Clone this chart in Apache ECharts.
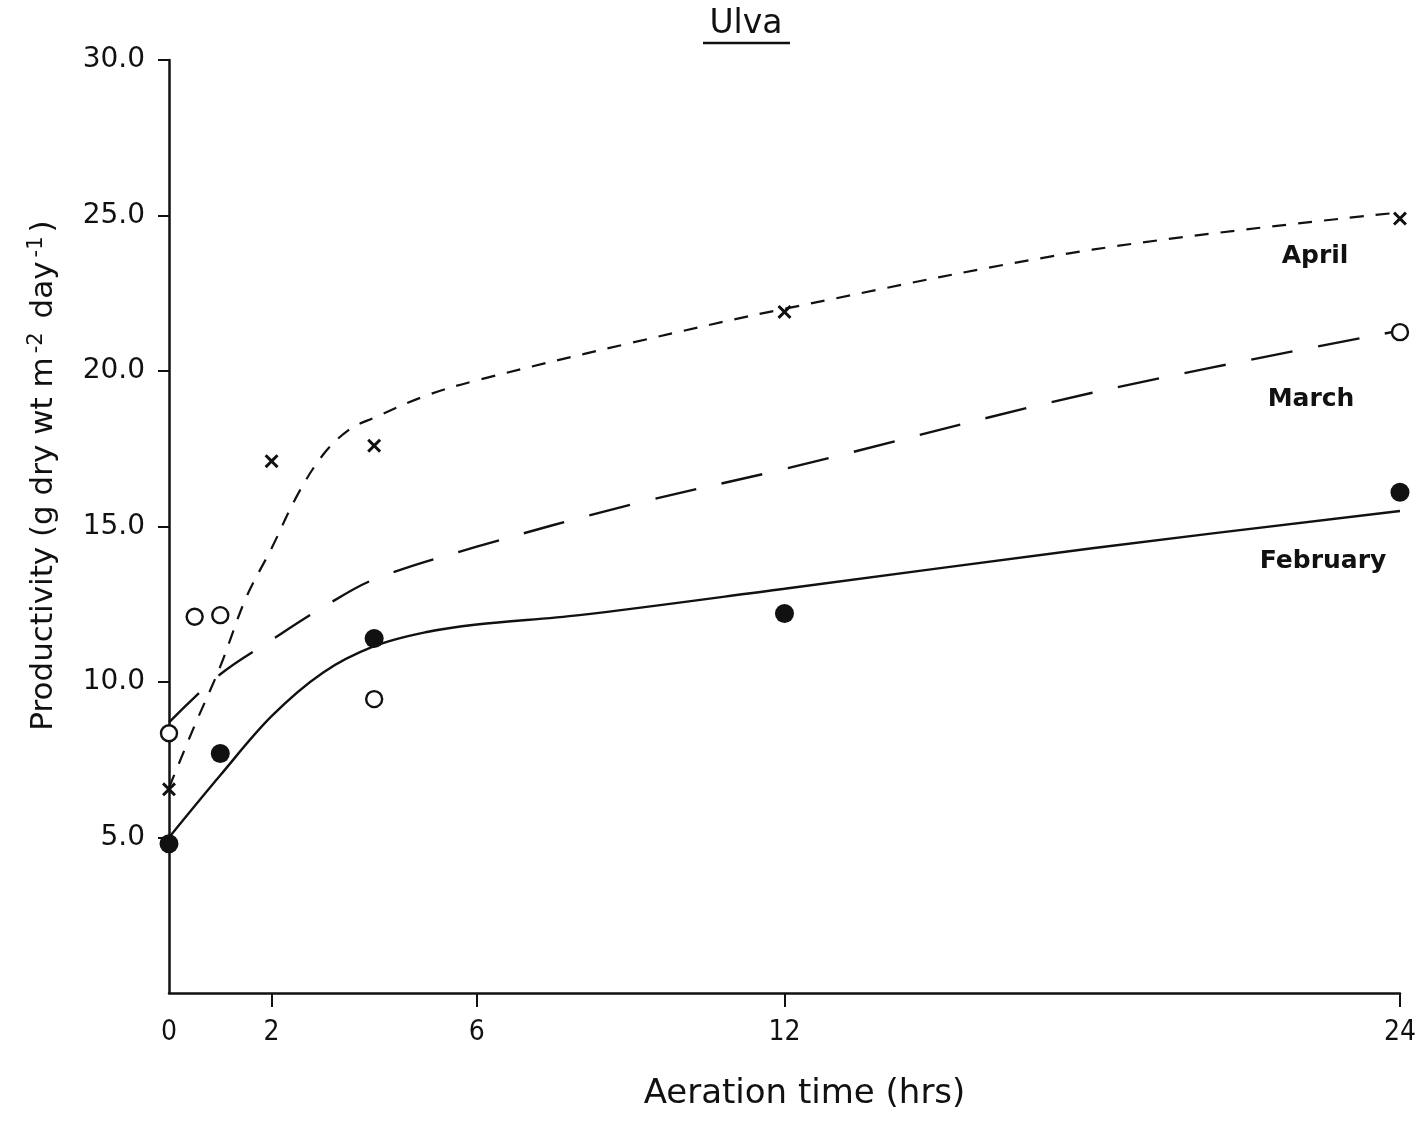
<!DOCTYPE html>
<html>
<head>
<meta charset="utf-8">
<script src="https://cdn.jsdelivr.net/npm/echarts@6/dist/echarts.min.js"></script>
<style>
html,body{margin:0;padding:0;background:#fff;}
#chart{width:1419px;height:1121px;}
</style>
</head>
<body>
<div id="chart"></div>
<script>
// ---- Data ----
const xTickValues = [0, 2, 6, 12, 24];
const yTickValues = [5, 10, 15, 20, 25, 30];

// observed points [hours, productivity]
const februaryPoints = [[0, 4.8], [1, 7.7], [4, 11.4], [12, 12.2], [24, 16.1]];
const marchPoints    = [[0, 8.35], [0.5, 12.1], [1, 12.15], [4, 9.45], [24, 21.25]];
const aprilPoints    = [[0, 6.55], [2, 17.1], [4, 17.6], [12, 21.9], [24, 24.9]];

// fitted curves drawn by hand in the original
const februaryCurve = [[0, 5.0], [1, 7.0], [2, 8.9], [3, 10.3], [4, 11.15], [5, 11.6], [6, 11.85], [8, 12.15], [12, 13.0], [18, 14.3], [24, 15.5]];
const marchCurve    = [[0, 8.7], [1, 10.25], [2, 11.35], [3, 12.4], [4, 13.3], [6, 14.35], [9, 15.7], [12, 16.85], [18, 19.3], [24, 21.3]];
const aprilCurve    = [[0, 6.6], [0.5, 8.6], [1, 10.5], [1.5, 12.7], [2, 14.3], [2.5, 16.0], [3, 17.3], [3.5, 18.1], [4, 18.5], [5, 19.2], [6, 19.7], [9, 20.9], [12, 22.0], [18, 23.9], [24, 25.1]];

const seriesLabels = ['April', 'March', 'February'];

const FONT = "'DejaVu Sans', 'Noto Sans', sans-serif";
const INK = '#111';

const crossPath = 'path://M0,1.5L1.5,0L5,3.5L8.5,0L10,1.5L6.5,5L10,8.5L8.5,10L5,6.5L1.5,10L0,8.5L3.5,5Z';

const chart = echarts.init(document.getElementById('chart'), null, {renderer: 'canvas'});

const option = {
  backgroundColor: '#fff',
  animation: false,
  grid: {left: 169, right: 17, top: 60, bottom: 128, containLabel: false},
  xAxis: {
    type: 'value',
    min: 0, max: 24,
    name: 'Aeration time (hrs)',
    nameLocation: 'middle',
    nameGap: 84,
    nameTextStyle: {fontFamily: FONT, fontSize: 34, color: INK, padding: [0, 0, 0, 40]},
    axisLine: {show: true, lineStyle: {color: INK, width: 2.5}},
    axisTick: {show: true, inside: false, length: 14, lineStyle: {color: INK, width: 2}, customValues: [2, 6, 12, 24]},
    axisLabel: {show: true, margin: 26, fontFamily: "'DejaVu Sans Condensed', 'Liberation Sans Narrow', " + FONT, fontSize: 28, color: INK, customValues: xTickValues, formatter: v => String(v)},
    splitLine: {show: false}
  },
  yAxis: {
    type: 'value',
    min: 0, max: 30,
    name: 'Productivity (g dry wt m{sup|-2} day{sup|-1})',
    nameLocation: 'middle',
    nameGap: 108,
    nameTextStyle: {
      fontFamily: FONT, fontSize: 31, color: INK, padding: [0, 0, 0, 102],
      rich: {sup: {fontFamily: FONT, fontSize: 21, color: INK, verticalAlign: 'top', padding: [0, 4, 14, 4]}}
    },
    axisLine: {show: true, lineStyle: {color: INK, width: 2.5}},
    axisTick: {show: true, inside: false, length: 11, lineStyle: {color: INK, width: 2}, customValues: yTickValues},
    axisLabel: {show: true, margin: 24, fontFamily: FONT, fontSize: 28, color: INK, customValues: yTickValues, formatter: v => v.toFixed(1)},
    splitLine: {show: false}
  },
  graphic: [
    {type: 'text', x: 746, y: 24, style: {text: 'Ulva', font: '33px ' + FONT, fill: INK, align: 'center', verticalAlign: 'middle'}},
    {type: 'line', shape: {x1: 703, y1: 43, x2: 790, y2: 43}, style: {stroke: INK, lineWidth: 2.5}},
    {type: 'text', x: 1315, y: 256, style: {text: seriesLabels[0], font: 'bold 25px ' + FONT, fill: INK, align: 'center', verticalAlign: 'middle'}},
    {type: 'text', x: 1311, y: 399, style: {text: seriesLabels[1], font: 'bold 25px ' + FONT, fill: INK, align: 'center', verticalAlign: 'middle'}},
    {type: 'text', x: 1323, y: 561, style: {text: seriesLabels[2], font: 'bold 25px ' + FONT, fill: INK, align: 'center', verticalAlign: 'middle'}}
  ],
  series: [
    {name: 'February curve', type: 'line', data: februaryCurve, smooth: 0.35, showSymbol: false, symbol: 'none',
     lineStyle: {color: INK, width: 2.4, type: 'solid'}, z: 2},
    {name: 'March curve', type: 'line', data: marchCurve, smooth: 0.35, showSymbol: false, symbol: 'none',
     lineStyle: {color: INK, width: 2.4, type: [42, 26]}, z: 2},
    {name: 'April curve', type: 'line', data: aprilCurve, smooth: 0.35, showSymbol: false, symbol: 'none',
     lineStyle: {color: INK, width: 2.2, type: [14, 12]}, z: 2},
    {name: 'February', type: 'scatter', data: februaryPoints, symbol: 'circle', symbolSize: 19, clip: false,
     itemStyle: {color: INK, opacity: 1}, z: 5},
    {name: 'March', type: 'scatter', data: marchPoints, symbol: 'circle', symbolSize: 16, clip: false,
     itemStyle: {color: '#fff', borderColor: INK, borderWidth: 2.4, opacity: 1}, z: 5},
    {name: 'April', type: 'scatter', data: aprilPoints, symbol: crossPath, symbolSize: 14, clip: false,
     itemStyle: {color: INK, opacity: 1}, z: 5}
  ]
};
chart.setOption(option);
</script>
</body>
</html>
